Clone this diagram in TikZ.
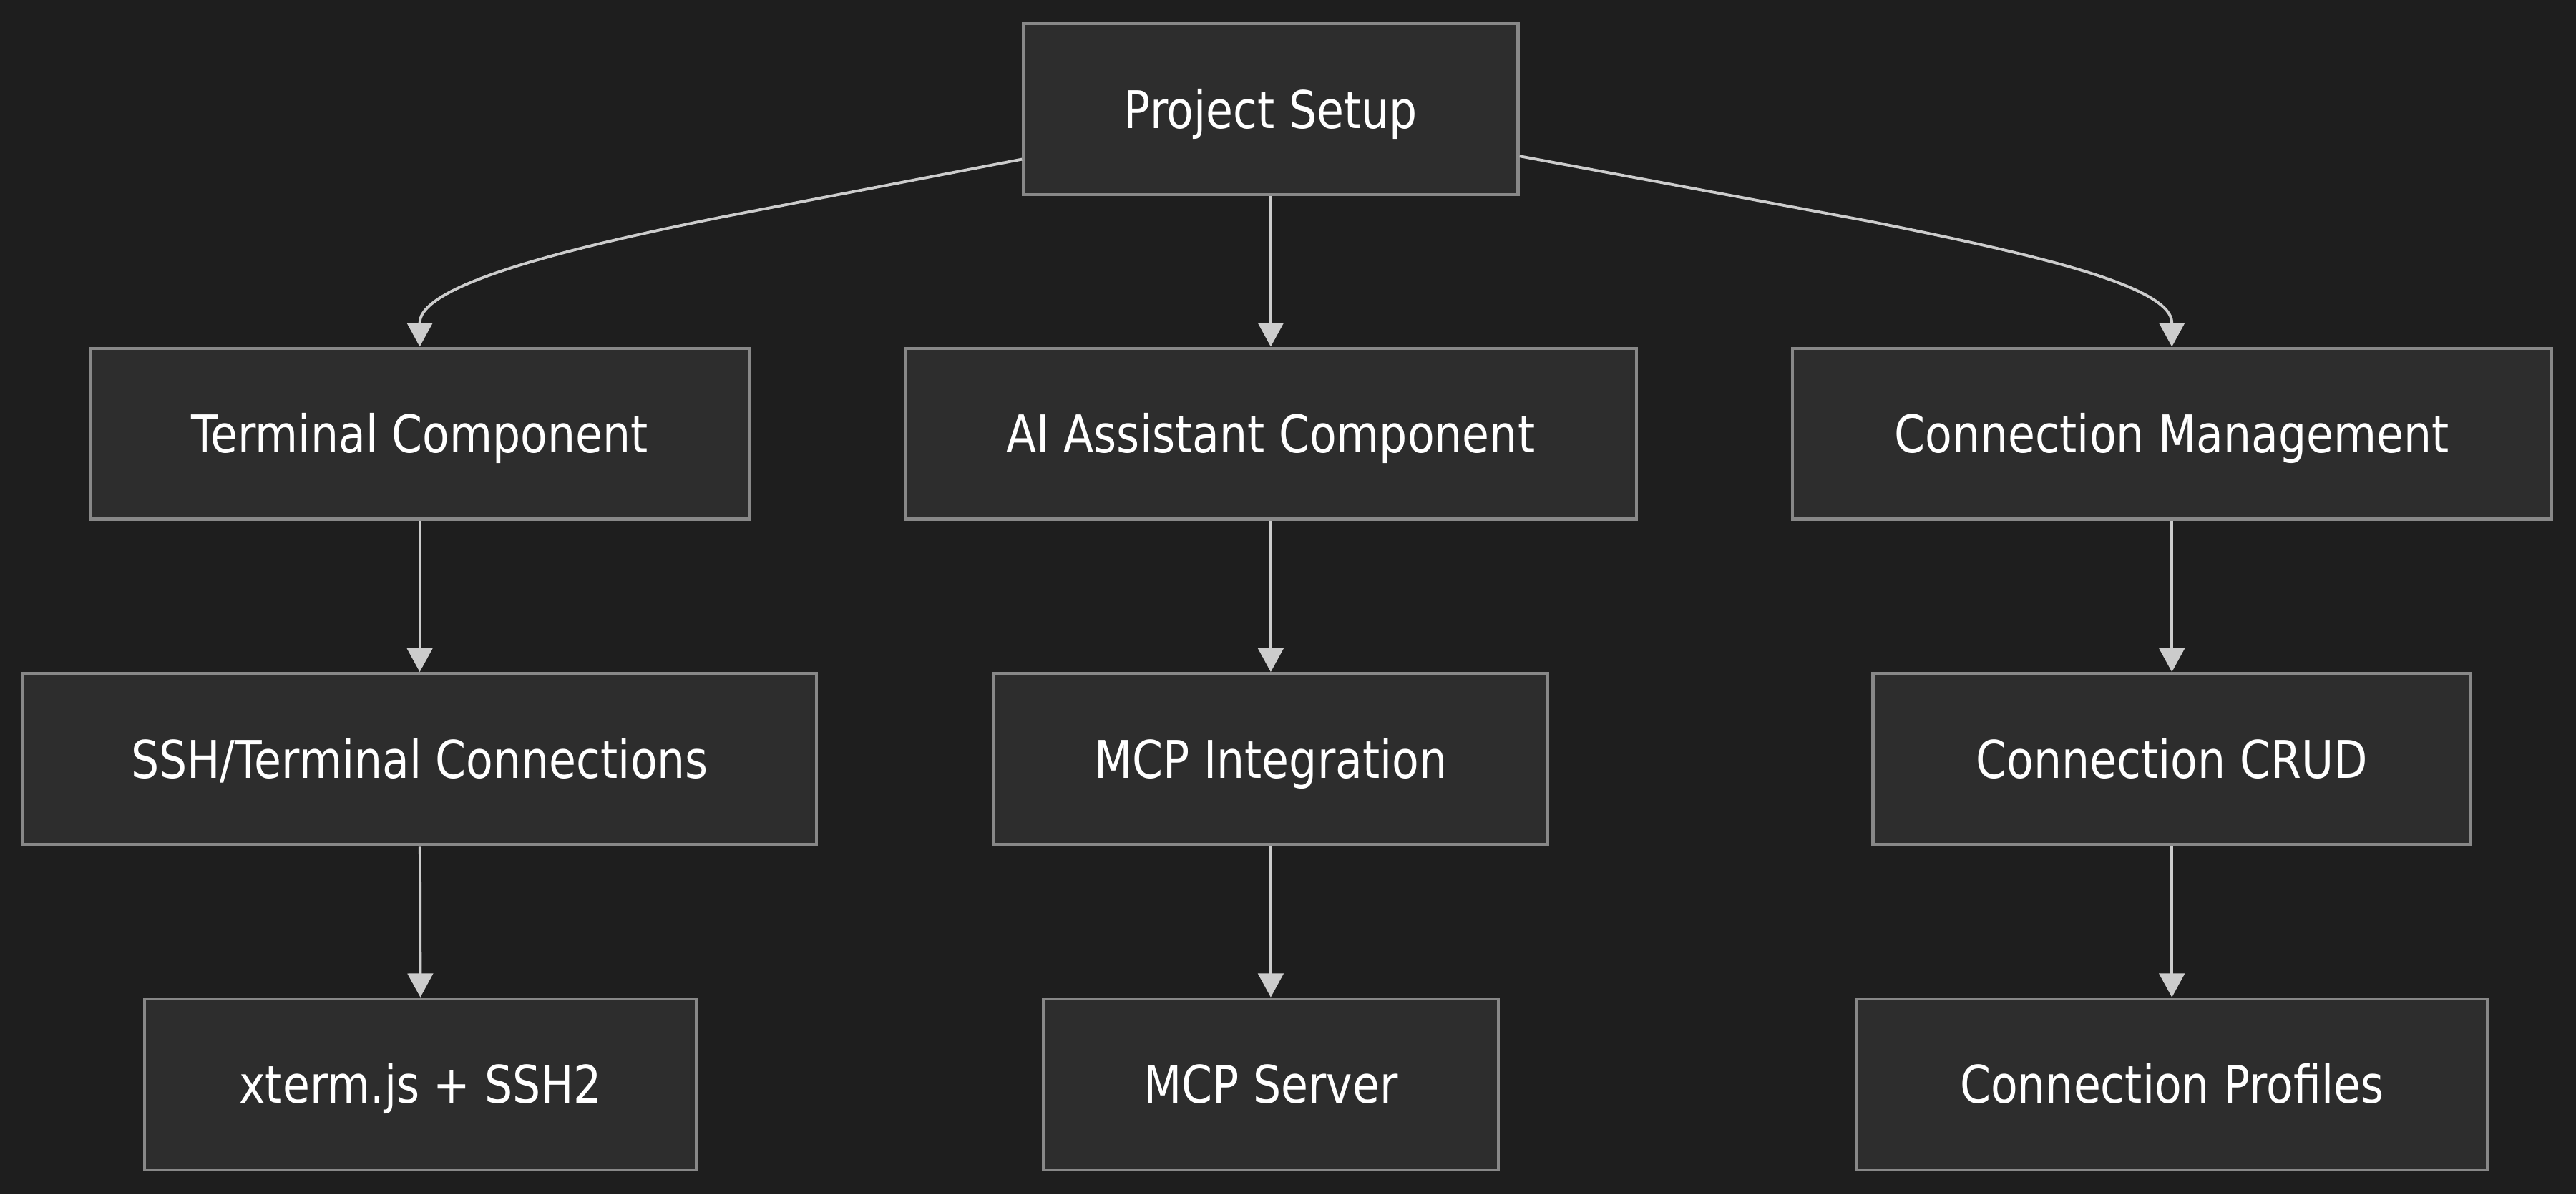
\documentclass[tikz,border=0pt]{standalone}
\usepackage{fontspec}
\setmainfont{DejaVu Sans}[FakeStretch=0.85]
\usetikzlibrary{arrows.meta,calc}
\definecolor{bgc}{HTML}{1E1E1E}
\definecolor{boxfill}{HTML}{2D2D2D}
\definecolor{boxline}{HTML}{888888}
\definecolor{edgec}{HTML}{CCCCCC}
\begin{document}
\begin{tikzpicture}[x=0.5pt,y=-0.5pt,
  box/.style={draw=boxline,fill=boxfill,line width=0.95pt,inner sep=0pt,
    minimum height=52pt,text=white,font=\fontsize{15.8}{19}\selectfont,
    text height=11.5pt,text depth=0pt,minimum width=#1},
  edge/.style={draw=edgec,line width=0.85pt,-{Triangle[length=7.25pt,width=7.7pt]}}]
\fill[bgc] (0,0) rectangle (1568,727);
\useasboundingbox (0,0) rectangle (1568,727);
\node[box=150.5pt] (ps) at (773.5,66.5) {Project Setup};
\node[box=200.5pt] (tc) at (255.5,264) {Terminal Component};
\node[box=222.5pt] (ai) at (773.5,264) {AI Assistant Component};
\node[box=231pt] (cm) at (1322,264) {Connection Management};
\node[box=241.5pt] (ssh) at (255.5,462) {SSH/Terminal Connections};
\node[box=168.5pt] (mcpi) at (773.5,462) {MCP Integration};
\node[box=182pt] (crud) at (1322,462) {Connection CRUD};
\node[box=168pt] (xterm) at (256,660) {xterm.js + SSH2};
\node[box=138.5pt] (mcps) at (773.5,660) {MCP Server};
\node[box=192pt] (prof) at (1322,660) {Connection Profiles};
\coordinate (l1) at (440,132);
\coordinate (r1) at (1138,134.7);
\draw[edge] ($(ps.south west)+(0,-22.5)$) -- (l1) .. controls (340,152) and ($(tc.north)+(0,-37)$) .. ($(tc.north)+(0,-14.5)$) -- (tc.north);
\draw[edge] (ps) -- (ai);
\draw[edge] ($(ps.south east)+(0,-24.4)$) -- (r1) .. controls (1238,154.7) and ($(cm.north)+(0,-37)$) .. ($(cm.north)+(0,-14.5)$) -- (cm.north);
\draw[edge] (tc) -- (ssh);
\draw[edge] (ssh) -- (xterm);
\draw[edge] (ai) -- (mcpi);
\draw[edge] (mcpi) -- (mcps);
\draw[edge] (cm) -- (crud);
\draw[edge] (crud) -- (prof);
\end{tikzpicture}
\end{document}
